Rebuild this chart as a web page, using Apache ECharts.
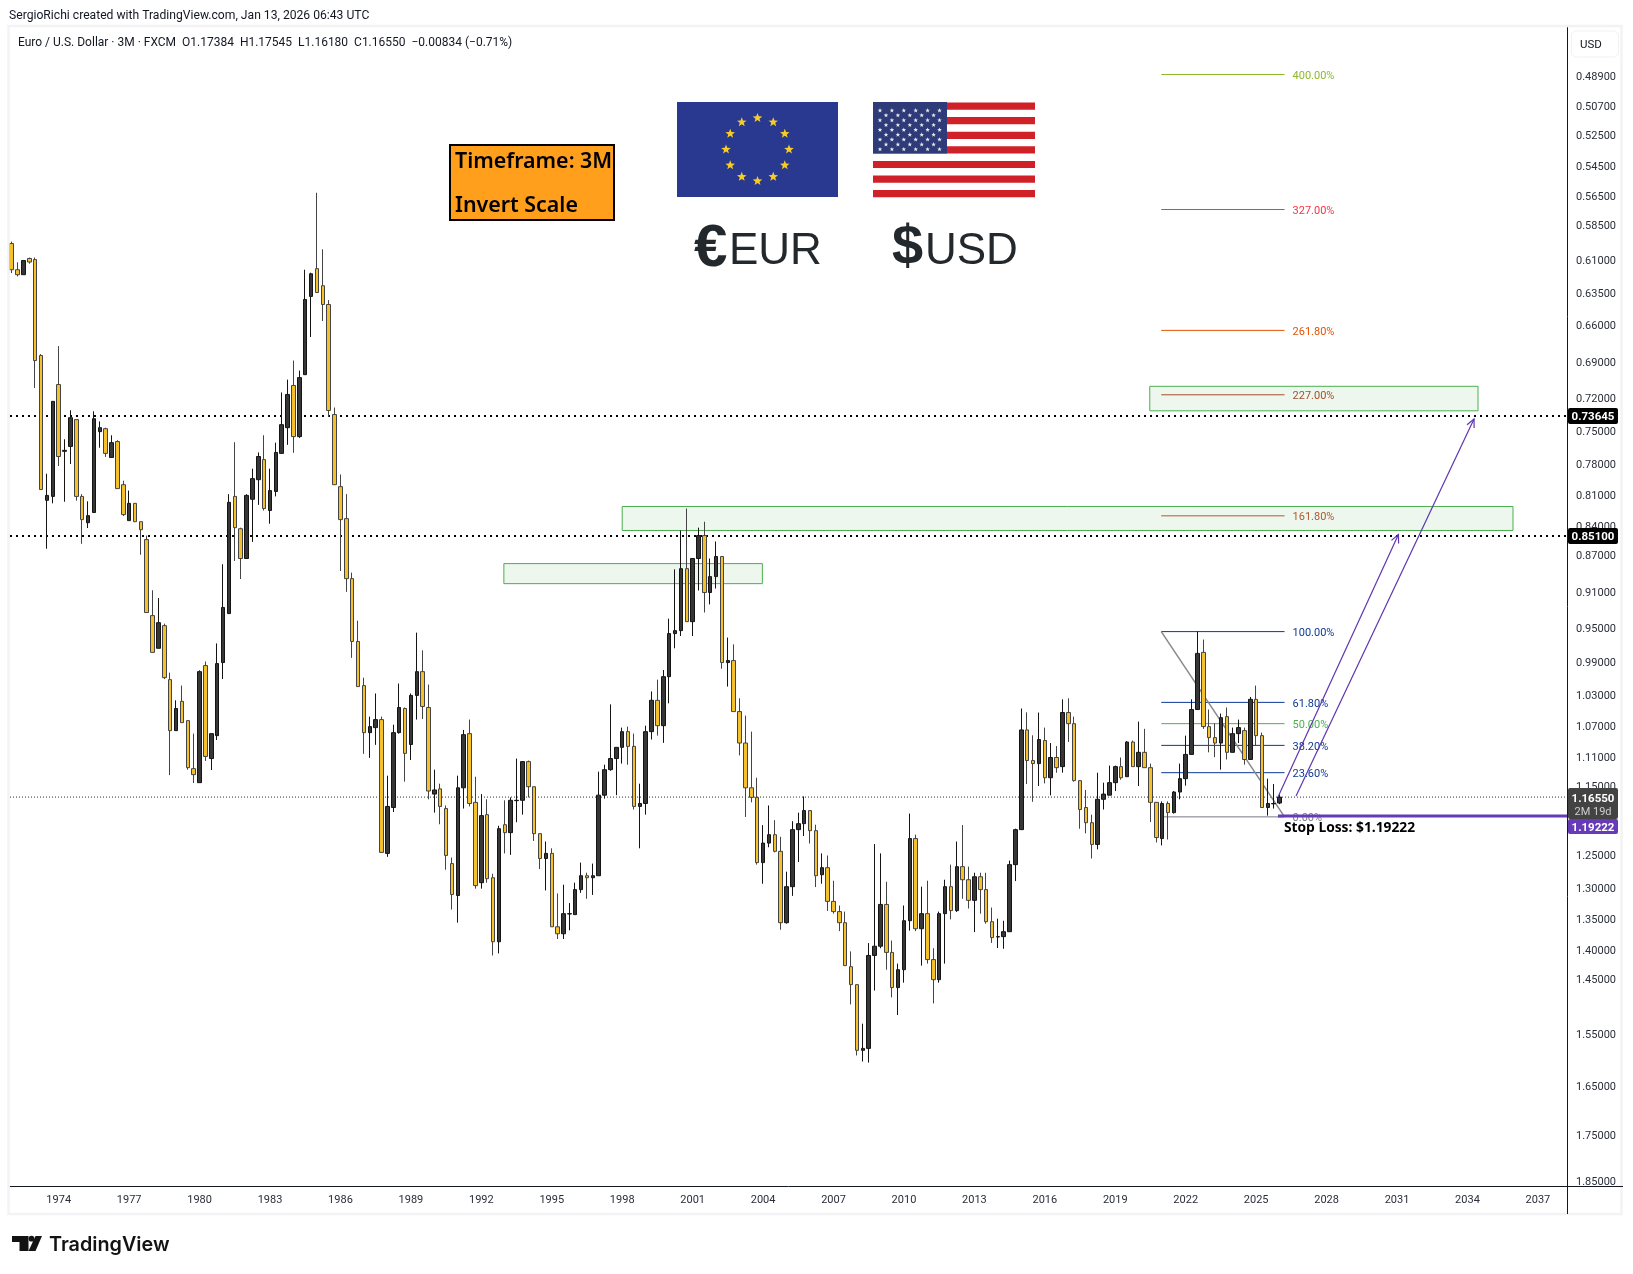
<!DOCTYPE html>
<html>
<head>
<meta charset="utf-8">
<title>EUR/USD 3M inverted</title>
<script src="https://cdn.jsdelivr.net/npm/echarts@6/dist/echarts.min.js"></script>
<style>
  html, body { margin: 0; padding: 0; background: #fff; }
  #main { width: 1633px; height: 1274px; }
</style>
</head>
<body>
<div id="main"></div>
<script>
var quarterOpen = [
  .5982,.6174,.6211,.6091,.6099,.6846,.8151,.8113,.7090,.7684,
  .7639,.7396,.8113,.8374,.8272,.7504,.7477,.7741,.7594,.7999,
  .8353,.8181,.8364,.8546,.9366,.9742,.9480,1.0117,1.0758,1.0385,
  1.0629,1.1262,1.1454,.9947,1.1126,1.0823,.9911,.9343,.8113,.8435,
  .8743,.8141,.7951,.7761,.8252,.8065,.7703,.7468,.7098,.7549,
  .7006,.6376,.6166,.6294,.6438,.7351,.8018,.8333,.8958,.9662,
  1.0190,1.0784,1.0719,1.0616,1.2473,1.1802,1.0784,1.0475,1.0939,1.0311,
  1.0020,1.0462,1.1613,1.1540,1.1817,1.2627,1.3122,1.1525,1.0797,1.1729,
  1.2921,1.1904,1.2844,1.3874,1.2049,1.2165,1.1705,1.1700,1.1167,1.1510,
  1.2180,1.2550,1.2473,1.3626,1.3741,1.3418,1.3428,1.3029,1.2813,1.2844,
  1.2813,1.1628,1.1276,1.1126,1.0977,1.0771,1.0964,1.1787,1.1745,1.0771,
  1.0372,1.0694,1.0081,.9571,.9537,.8851,.9434,.8743,.8505,.9109,
  .8936,.8722,.9911,.9887,1.0514,1.0920,1.1525,1.1659,1.2612,1.2319,
  1.2195,1.2442,1.3559,1.2983,1.2121,1.2034,1.1846,1.2136,1.2798,1.2689,
  1.3215,1.3379,1.3559,1.4297,1.4610,1.5813,1.5776,1.4105,1.3949,1.3264,
  1.4053,1.4662,1.4349,1.3527,1.2252,1.3658,1.3412,1.4175,1.4523,1.3412,
  1.2983,1.3363,1.2674,1.2875,1.3199,1.2829,1.3029,1.3543,1.3795,1.3789,
  1.3707,1.2643,1.2121,1.0749,1.1153,1.1194,1.0887,1.1386,1.1112,1.1235,
  1.0526,1.0668,1.1426,1.1802,1.2020,1.2339,1.1686,1.1628,1.1454,1.1235,
  1.1372,1.0907,1.1235,1.1043,1.1249,1.1729,1.2252,1.1745,1.1875,1.1584,
  1.1399,1.1071,1.0488,.9790,1.0706,1.0849,1.0920,1.0578,1.1043,1.0797,
  1.0758,1.1139,1.0360,1.0823,1.1802,1.1750,1.17384
];
var quarterClose = [
  .6174,.6211,.6106,.6117,.6888,.8046,.8103,.7235,.7732,.7675,
  .7379,.8113,.8343,.8303,.7388,.7468,.7703,.7604,.8037,.8293,
  .8181,.8364,.8445,.9331,.9790,.9446,1.0093,1.0758,1.0475,1.0655,
  1.1249,1.1344,1.0020,1.1098,1.0797,.9923,.9274,.8171,.8424,.8743,
  .8103,.7941,.7732,.8232,.8056,.7694,.7441,.7175,.7549,.7031,
  .6399,.6204,.6346,.6438,.7315,.7999,.8343,.8958,.9662,1.0202,
  1.0784,1.0706,1.0616,1.2458,1.1787,1.0784,1.0462,1.1057,1.0311,1.0020,
  1.0449,1.1570,1.1555,1.1787,1.2504,1.3106,1.1525,1.0810,1.1745,1.2967,
  1.1918,1.2859,1.3874,1.2107,1.2165,1.1700,1.1700,1.1167,1.1510,1.2180,
  1.2550,1.2473,1.3626,1.3741,1.3412,1.3412,1.3029,1.2813,1.2844,1.2813,
  1.1628,1.1276,1.1126,1.0977,1.0771,1.0964,1.1787,1.1745,1.0771,1.0372,
  1.0694,1.0081,.9571,.9537,.8851,.9434,.8743,.8505,.9109,.8936,
  .8722,.9911,.9887,1.0514,1.0920,1.1525,1.1659,1.2612,1.2319,1.2195,
  1.2442,1.3559,1.2983,1.2121,1.2034,1.1846,1.2136,1.2813,1.2689,1.3215,
  1.3379,1.3559,1.4279,1.4610,1.5813,1.5776,1.4105,1.3949,1.3264,1.4053,
  1.4662,1.4349,1.3527,1.2252,1.3658,1.3412,1.4175,1.4523,1.3412,1.2983,
  1.3363,1.2674,1.2875,1.3199,1.2829,1.3029,1.3543,1.3805,1.3789,1.3707,
  1.2643,1.2121,1.0749,1.1153,1.1194,1.0874,1.1386,1.1112,1.1249,1.0526,
  1.0668,1.1426,1.1831,1.2020,1.2339,1.1686,1.1613,1.1454,1.1235,1.1386,
  1.0907,1.1235,1.1043,1.1249,1.1729,1.2237,1.1745,1.1875,1.1584,1.1399,
  1.1071,1.0488,.9802,1.0706,1.0849,1.0920,1.0591,1.1043,1.0797,1.0719,
  1.1139,1.0360,1.0823,1.1802,1.1745,1.1745,1.1655
];
var quarterLow = [
  .5968,.6119,.6106,.6084,.6084,.6835,.7894,.7235,.6769,.7573,
  .7313,.7396,.8091,.8161,.7322,.7412,.7468,.7537,.7582,.7961,
  .8056,.8181,.8364,.8505,.9084,.9170,.9457,1.0032,1.0372,1.0190,
  1.0629,1.0797,1.0004,.9899,1.0797,.9685,.8804,.8091,.7600,.8424,
  .8091,.7846,.7694,.7537,.7846,.7604,.7158,.7048,.6888,.6972,
  .6174,.6196,.5627,.6024,.6404,.7289,.7901,.8091,.8893,.9423,
  1.0093,1.0578,1.0287,1.0578,1.1358,1.0681,1.0165,1.0462,1.0287,.9560,
  .9766,1.0177,1.1276,1.1468,1.1773,1.2535,1.1358,1.0749,1.0616,1.1372,
  1.1613,1.1686,1.2782,1.2065,1.1700,1.1659,1.1126,1.1167,1.1153,1.1510,
  1.2180,1.2296,1.2397,1.3090,1.2952,1.3243,1.2921,1.2612,1.2767,1.2627,
  1.1303,1.1208,1.0423,1.0977,1.0719,1.0706,1.0797,1.1468,1.0694,1.0262,
  1.0117,1.0000,.9400,.8858,.8453,.8232,.8743,.8424,.8364,.8743,
  .8566,.8722,.9617,.9696,1.0347,1.0565,1.0771,1.1386,1.2055,1.1773,
  1.1984,1.2226,1.2751,1.1998,1.1875,1.1645,1.1846,1.2049,1.2473,1.2504,
  1.2890,1.3281,1.3379,1.4036,1.4610,1.5314,1.3896,1.2334,1.2473,1.2906,
  1.3854,1.4244,1.3281,1.1889,1.2195,1.2983,1.2890,1.3983,1.3379,1.2875,
  1.2643,1.2296,1.2055,1.2674,1.2767,1.2767,1.2767,1.3314,1.3494,1.3527,
  1.2581,1.2107,1.0475,1.0523,1.0819,1.0526,1.0719,1.0920,1.0960,1.0360,
  1.0347,1.0578,1.1426,1.1555,1.1904,1.1317,1.1454,1.1221,1.1221,1.1112,
  1.0895,1.0887,1.0642,1.0735,1.1194,1.1729,1.1715,1.1715,1.1570,1.1194,
  1.0823,1.0360,.9548,.9640,1.0488,1.0664,1.0539,1.0462,1.0719,1.0616,
  1.0719,1.0330,1.0190,1.0784,1.1399,1.1473,1.1618
];
var quarterHigh = [
  .6199,.6224,.6211,.6129,.7119,.8046,.8641,.8181,.7821,.8165,
  .7802,.8155,.8590,.8428,.8272,.7651,.7736,.7741,.8037,.8307,
  .8353,.8364,.8704,.9331,.9790,.9742,1.0110,1.1350,1.0758,1.0655,
  1.1276,1.1459,1.1454,1.1158,1.1281,1.0880,1.0110,.9343,.8769,.8962,
  .8743,.8570,.8196,.8252,.8384,.8113,.7703,.7624,.7698,.7561,
  .7006,.6695,.6346,.6568,.7372,.7999,.8876,.9102,.9855,1.0202,
  1.1063,1.1117,1.0944,1.2458,1.2525,1.1866,1.0797,1.1440,1.1145,1.0616,
  1.0609,1.1686,1.1875,1.2043,1.2720,1.3346,1.3559,1.1817,1.1787,1.3014,
  1.3014,1.2921,1.4105,1.4070,1.2473,1.2495,1.2014,1.1904,1.1659,1.2287,
  1.2711,1.3042,1.3626,1.3828,1.3828,1.3685,1.3428,1.3081,1.3174,1.3113,
  1.2813,1.1677,1.1290,1.1628,1.1194,1.1208,1.1831,1.2397,1.1904,1.0874,
  1.0823,1.0918,1.0410,.9742,.9599,.9434,.9599,.9087,.9331,.9240,
  .9065,.9984,1.0202,1.0514,1.1084,1.1938,1.1729,1.2643,1.2937,1.2381,
  1.2458,1.3674,1.3575,1.3128,1.2603,1.2214,1.2325,1.2989,1.2937,1.3369,
  1.3412,1.3697,1.4279,1.4962,1.5911,1.6028,1.6048,1.4714,1.3983,1.4349,
  1.4836,1.5155,1.4575,1.3690,1.3697,1.4279,1.4244,1.4944,1.4575,1.4244,
  1.3505,1.3385,1.3174,1.3330,1.3714,1.3412,1.3575,1.3893,1.3980,1.3992,
  1.3707,1.2896,1.2121,1.1473,1.1721,1.1500,1.1464,1.1630,1.1317,1.1317,
  1.0907,1.1440,1.2107,1.2175,1.2550,1.2412,1.1831,1.1628,1.1570,1.1413,
  1.1372,1.1235,1.1500,1.1249,1.2011,1.2310,1.2354,1.2266,1.1889,1.1686,
  1.1495,1.1071,1.0488,1.0735,1.1043,1.1108,1.1276,1.1139,1.1043,1.0920,
  1.1208,1.1139,1.0957,1.1802,1.1918,1.1817,1.17545
];

var yearTicks = [1974,1977,1980,1983,1986,1989,1992,1995,1998,2001,2004,2007,2010,2013,2016,2019,2022,2025,2028,2031,2034,2037];
var priceTicks = [.489,.507,.525,.545,.565,.585,.61,.635,.66,.69,.72,.75,.78,.81,.84,.87,.91,.95,.99,1.03,1.07,1.11,1.15,1.25,1.3,1.35,1.4,1.45,1.55,1.65,1.75,1.85];

// fib levels
var fibNames = ['400.00%','327.00%','261.80%','227.00%','161.80%','100.00%','61.80%','50.00%','38.20%','23.60%','0.00%'];
var fibPrices = [.488,.5742,.6642,.7178,.8305,.9548,1.0398,1.0668,1.0951,1.1317,1.1936];
var fibStart = 2020.96, fibEnd = 2026.21;
var fibTrend = [[2020.96,.9548],[2026.21,1.1936]];

// support / resistance
var keyLevels = [.73645,.851];
var lastPrice = 1.1655;
var stopLoss = 1.19222;
var stopStart = 2025.93;

// [year0, price0, year1, price1]
var zones = [[1992.96,.8797,2003.97,.9012],[1998.0,.8212,2035.94,.8453],[2020.47,.7105,2034.45,.7318]];
var arrows = [[2025.93,1.1652,2031.06,.8495],[2026.7,1.164,2034.28,.7391]];

var xMin = 1971.926, xMax = 2038.24;
var yMin = .46085, yMax = 1.8621;

var fibColors = ['#8fb92c','#f23645','#e65100','#a4502a','#b0582e','#0d3a94','#0d3a94','#4caf50','#0d3a94','#0d3a94','#787b86'];

var quarterYears = [];
for (var q = 0; q < quarterOpen.length; q++) {
  quarterYears.push(1972 + q * 0.25);
}
var candleData = quarterOpen.map(function (o, i) {
  return [quarterYears[i], o, quarterClose[i], quarterLow[i], quarterHigh[i]];
});

var uiFont = 'Roboto, sans-serif';

function hline(name, points, style, z) {
  return { name: name, type: 'line', data: points, symbol: 'none', silent: true, animation: false, z: z || 3, lineStyle: style };
}

var series = [];

// green zones, below everything
series.push({
  type: 'line', data: [], silent: true, animation: false, z: 1,
  markArea: {
    silent: true,
    itemStyle: { color: 'rgba(76,175,80,0.1)', borderColor: '#4caf50', borderWidth: 1 },
    data: zones.map(function (r) { return [{ coord: [r[0], r[1]] }, { coord: [r[2], r[3]] }]; })
  }
});

keyLevels.forEach(function (p) {
  series.push(hline('level', [[xMin, p], [xMax, p]], { color: '#000', width: 2, type: [2, 4] }));
});
series.push(hline('last', [[xMin, lastPrice], [xMax, lastPrice]], { color: '#333', width: 1, type: [1, 2] }));

fibNames.forEach(function (name, i) {
  series.push(hline(name, [[fibStart, fibPrices[i]], [fibEnd, fibPrices[i]]], { color: fibColors[i], width: 1 }));
});
series.push(hline('fibTrend', fibTrend, { color: '#888', width: 1.5 }));

series.push({
  name: 'EURUSD', type: 'candlestick', data: candleData, z: 5, barWidth: 4, animation: false, silent: true,
  encode: { x: 0, y: [1, 2, 3, 4] },
  itemStyle: { color: '#f4c02b', color0: '#363636', borderColor: '#444', borderColor0: '#141414', borderWidth: 1 }
});

// fib captions sit to the right of each level
series.push({
  type: 'custom', z: 6, silent: true, animation: false, clip: false,
  data: fibPrices.map(function (p) { return [fibEnd, p]; }),
  encode: { x: 0, y: 1 },
  renderItem: function (params, api) {
    var p = api.coord([api.value(0), api.value(1)]);
    return { type: 'text', style: { x: p[0] + 8, y: p[1] + 1.5, text: fibNames[params.dataIndex], fill: fibColors[params.dataIndex], font: '11px ' + uiFont, textVerticalAlign: 'middle' } };
  }
});

series.push(hline('stop', [[stopStart, stopLoss], [xMax, stopLoss]], { color: '#673ab7', width: 3 }, 7));

// projection arrows with an open head
series.push({
  type: 'custom', z: 7, silent: true, animation: false, data: arrows, clip: false,
  encode: { x: [0, 2], y: [1, 3] },
  renderItem: function (params, api) {
    var a = api.coord([api.value(0), api.value(1)]);
    var b = api.coord([api.value(2), api.value(3)]);
    var ang = Math.atan2(b[1] - a[1], b[0] - a[0]);
    var len = 9, sp = 0.45;
    var h1 = [b[0] - len * Math.cos(ang - sp), b[1] - len * Math.sin(ang - sp)];
    var h2 = [b[0] - len * Math.cos(ang + sp), b[1] - len * Math.sin(ang + sp)];
    var st = { stroke: '#5e35b1', lineWidth: 1.2, fill: null };
    return { type: 'group', children: [
      { type: 'line', shape: { x1: a[0], y1: a[1], x2: b[0], y2: b[1] }, style: st },
      { type: 'polyline', shape: { points: [h1, b, h2] }, style: st }
    ] };
  }
});

// stop loss caption
series.push({
  type: 'custom', z: 8, silent: true, animation: false, clip: false, data: [[stopStart, stopLoss]],
  encode: { x: 0, y: 1 },
  renderItem: function (params, api) {
    var p = api.coord([api.value(0), api.value(1)]);
    return { type: 'text', style: { x: p[0] + 6, y: p[1] + 12, text: 'Stop Loss: $1.19222', fill: '#000', font: 'bold 13.8px "Open Sans", sans-serif', textVerticalAlign: 'middle' } };
  }
});

// price tags on the right scale
var tagPrices = [keyLevels[0], keyLevels[1], lastPrice, stopLoss];
series.push({
  type: 'custom', z: 9, silent: true, animation: false, clip: false, data: tagPrices.map(function (p) { return [xMax, p]; }),
  encode: { x: 0, y: 1 },
  renderItem: function (params, api) {
    var i = params.dataIndex;
    var p = api.coord([api.value(0), api.value(1)]);
    var x = p[0] + 1, y = p[1];
    var tagFont = 'bold 11.5px ' + uiFont;
    if (i < 2) {
      return { type: 'group', children: [
        { type: 'rect', shape: { x: x, y: y - 8, width: 50, height: 16, r: 2 }, style: { fill: '#000' } },
        { type: 'text', style: { x: x + 25, y: y + 1, text: api.value(1).toFixed(5), fill: '#fff', font: tagFont, textAlign: 'center', textVerticalAlign: 'middle' } }
      ] };
    }
    if (i === 2) {
      return { type: 'group', children: [
        { type: 'rect', shape: { x: x, y: y - 9, width: 50, height: 31, r: 2 }, style: { fill: '#434343' } },
        { type: 'text', style: { x: x + 25, y: y + 2, text: '1.16550', fill: '#fff', font: tagFont, textAlign: 'center', textVerticalAlign: 'middle' } },
        { type: 'text', style: { x: x + 25, y: y + 15, text: '2M 19d', fill: '#cfcfcf', font: '11px ' + uiFont, textAlign: 'center', textVerticalAlign: 'middle' } }
      ] };
    }
    return { type: 'group', children: [
      { type: 'rect', shape: { x: x, y: y + 3, width: 50, height: 15, r: 2 }, style: { fill: '#673ab7' } },
      { type: 'text', style: { x: x + 25, y: y + 12, text: '1.19222', fill: '#fff', font: tagFont, textAlign: 'center', textVerticalAlign: 'middle' } }
    ] };
  }
});

// flags and page furniture
function starPoints(cx, cy, r) {
  var pts = [];
  for (var k = 0; k < 10; k++) {
    var rad = k % 2 === 0 ? r : r * 0.42;
    var a = -Math.PI / 2 + k * Math.PI / 5;
    pts.push([cx + rad * Math.cos(a), cy + rad * Math.sin(a)]);
  }
  return pts;
}

var gfx = [];
gfx.push({ type: 'rect', z: 20, shape: { x: 8.5, y: 26, width: 1613, height: 1188 }, style: { fill: null, stroke: '#f3f3f5', lineWidth: 2.5 } });
gfx.push({ type: 'line', z: 21, shape: { x1: 1567.5, y1: 1186, x2: 1567.5, y2: 1214 }, style: { stroke: '#131722', lineWidth: 1 } });
gfx.push({ type: 'line', z: 21, shape: { x1: 1567, y1: 1186.5, x2: 1623, y2: 1186.5 }, style: { stroke: '#131722', lineWidth: 1 } });

gfx.push({ type: 'text', z: 30, style: { x: 9, y: 16, text: 'SergioRichi created with TradingView.com, Jan 13, 2026 06:43 UTC', fill: '#131722', font: '12.15px ' + uiFont, textVerticalAlign: 'middle' } });
gfx.push({ type: 'text', z: 30, style: { x: 18, y: 43, text: 'Euro / U.S. Dollar \u00b7 3M \u00b7 FXCM\u00a0\u00a0O1.17384\u00a0\u00a0H1.17545\u00a0\u00a0L1.16180\u00a0\u00a0C1.16550\u00a0\u00a0\u22120.00834 (\u22120.71%)', fill: '#131722', font: '12px ' + uiFont, textVerticalAlign: 'middle' } });

// USD unit button
gfx.push({ type: 'rect', z: 30, shape: { x: 1571.5, y: 31, width: 47, height: 26, r: 5 }, style: { fill: '#fff', stroke: '#f0f1f4', lineWidth: 1 } });
gfx.push({ type: 'text', z: 31, style: { x: 1580, y: 45, text: 'USD', fill: '#131722', font: '11.5px ' + uiFont, textVerticalAlign: 'middle' } });

// timeframe box
gfx.push({ type: 'rect', z: 30, shape: { x: 450, y: 145, width: 164, height: 75 }, style: { fill: '#ff9f1c', stroke: '#000', lineWidth: 2 } });
gfx.push({ type: 'text', z: 31, style: { x: 455, y: 162, text: 'Timeframe: 3M', fill: '#000', font: '600 21.4px "Noto Sans", sans-serif', textVerticalAlign: 'middle' } });
gfx.push({ type: 'text', z: 31, style: { x: 455, y: 206, text: 'Invert Scale', fill: '#000', font: '600 21.4px "Noto Sans", sans-serif', textVerticalAlign: 'middle' } });

// EU flag
gfx.push({ type: 'rect', z: 30, shape: { x: 677, y: 102, width: 161, height: 95 }, style: { fill: '#2a3990' } });
for (var s = 0; s < 12; s++) {
  var ang = s * Math.PI / 6;
  gfx.push({ type: 'polygon', z: 31, shape: { points: starPoints(757.5 + 31.5 * Math.sin(ang), 149.5 - 31.5 * Math.cos(ang), 5) }, style: { fill: '#f6cd24' } });
}

// US flag
gfx.push({ type: 'rect', z: 30, shape: { x: 873, y: 102, width: 162, height: 95 }, style: { fill: '#fff' } });
for (var r = 0; r < 7; r++) {
  gfx.push({ type: 'rect', z: 31, shape: { x: 873, y: 102.5 + r * 14.6, width: 162, height: 7.2 }, style: { fill: '#cf2127' } });
}
gfx.push({ type: 'rect', z: 32, shape: { x: 873, y: 102, width: 74, height: 51.5 }, style: { fill: '#2f3b79' } });
for (var row = 0; row < 9; row++) {
  var cols = row % 2 === 0 ? 6 : 5;
  for (var c = 0; c < cols; c++) {
    var sx = 880 + (row % 2 === 0 ? 0 : 6) + c * 11.9;
    var sy = 110.5 + row * 4.85;
    gfx.push({ type: 'polygon', z: 33, shape: { points: starPoints(sx, sy, 2.4) }, style: { fill: '#e8ebf2' } });
  }
}

// currency captions
var logoInk = '#23282c';
gfx.push({ type: 'text', z: 30, style: { x: 694, y: 279, text: '\u20ac', fill: logoInk, font: 'bold 60px "Liberation Sans", sans-serif', textVerticalAlign: 'bottom' } });
gfx.push({ type: 'text', z: 30, style: { x: 729, y: 274, text: 'EUR', fill: logoInk, font: '44px "Liberation Sans", sans-serif', textVerticalAlign: 'bottom' } });
gfx.push({ type: 'text', z: 30, style: { x: 892, y: 277, text: '$', fill: logoInk, font: 'bold 56px "Liberation Sans", sans-serif', textVerticalAlign: 'bottom' } });
gfx.push({ type: 'text', z: 30, style: { x: 925, y: 274, text: 'USD', fill: logoInk, font: '44px "Liberation Sans", sans-serif', textVerticalAlign: 'bottom' } });

// TradingView mark
gfx.push({ type: 'polygon', z: 30, shape: { points: [[12, 1236], [28.5, 1236], [28.5, 1251], [19.5, 1251], [19.5, 1242], [12, 1242]] }, style: { fill: '#131313' } });
gfx.push({ type: 'circle', z: 30, shape: { cx: 31.5, cy: 1238.7, r: 2.9 }, style: { fill: '#131313' } });
gfx.push({ type: 'polygon', z: 30, shape: { points: [[35.5, 1236], [42, 1236], [35.5, 1251], [28.5, 1251]] }, style: { fill: '#131313' } });
gfx.push({ type: 'text', z: 30, style: { x: 49, y: 1245, text: 'TradingView', fill: '#131313', font: '600 19.8px Inter, sans-serif', textVerticalAlign: 'middle' } });

var chart = echarts.init(document.getElementById('main'), null, { renderer: 'canvas' });

var option = {
  animation: false,
  backgroundColor: '#fff',
  grid: { left: 10, top: 27, width: 1557, height: 1159, containLabel: false },
  xAxis: {
    type: 'value', min: xMin, max: xMax, scale: true,
    splitLine: { show: false },
    axisTick: { show: false },
    axisLine: { show: true, lineStyle: { color: '#131722', width: 1 } },
    axisLabel: {
      customValues: yearTicks, margin: 9, color: '#2a2e39', fontFamily: uiFont, fontSize: 11,
      formatter: function (v) { return String(v); }
    }
  },
  yAxis: {
    type: 'log', logBase: 10, inverse: true, position: 'right', min: yMin, max: yMax,
    splitLine: { show: false },
    axisTick: { show: false },
    axisLine: { show: true, lineStyle: { color: '#131722', width: 1 } },
    axisLabel: {
      customValues: priceTicks, margin: 9, color: '#2a2e39', fontFamily: uiFont, fontSize: 11,
      verticalAlign: 'top', lineHeight: 3, // nudges the text just under the exact price
      formatter: function (v) { return Number(v).toFixed(5); }
    }
  },
  series: series,
  graphic: { elements: gfx }
};

chart.setOption(option);
</script>
</body>
</html>
